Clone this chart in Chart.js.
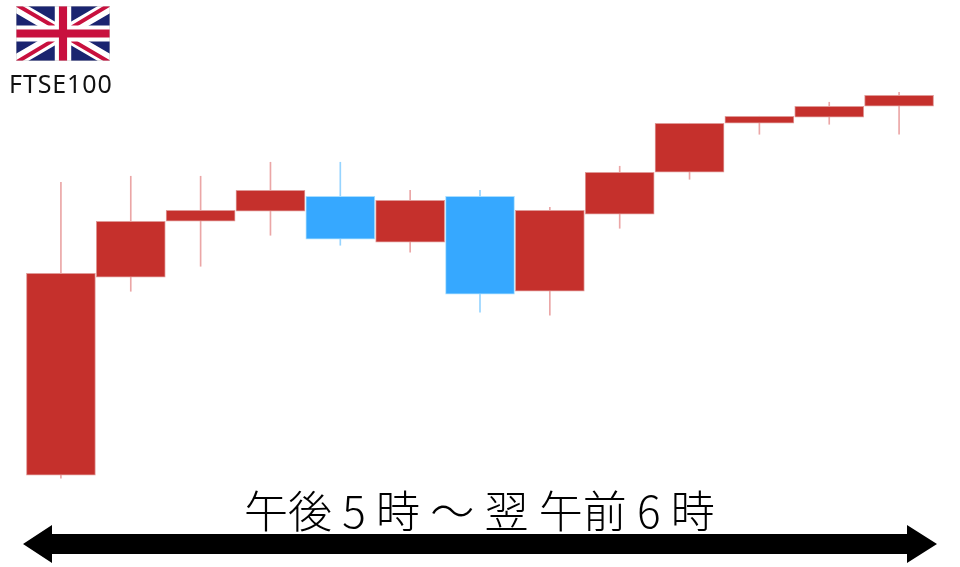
<!DOCTYPE html>
<html>
<head>
  <title>FTSE100</title>
  <meta charset="utf-8">
  <script src="https://cdn.jsdelivr.net/npm/chart.js"></script>
  <style>
    html, body { margin: 0; padding: 0; background: #fff; }
    .wrap { position: relative; width: 960px; height: 567px; overflow: hidden; }
    canvas { position: absolute; left: 0; top: 0; }
    svg { position: absolute; left: 0; top: 0; }
    .name { position: absolute; left: 9px; top: 66px; font: 25px "Noto Sans", sans-serif; letter-spacing: 0.9px; color: #111; white-space: nowrap; }
    .span { position: absolute; left: 244px; top: 479px; font: 300 44px "Noto Sans CJK JP", sans-serif; word-spacing: 0.5px; line-height: 60px; color: #000; white-space: pre; }
  </style>
</head>
<body>
  <div class="wrap">
    <canvas id="candles" width="960" height="567"></canvas>

    <svg width="960" height="567">
      <!-- flag -->
      <svg x="16" y="6" width="94" height="55" viewBox="0 0 60 36" preserveAspectRatio="none">
        <rect width="60" height="36" fill="#1a2470"/>
        <path d="M0 0 L60 36 M60 0 L0 36" stroke="#fff" stroke-width="8"/>
        <path d="M0 -1 L26 14.6 M34 15 L60 -1 M60 37 L34 21.4 M26 21 L0 37" stroke="#c8103e" stroke-width="2.6"/>
        <path d="M30 0 V36 M0 18 H60" stroke="#fff" stroke-width="10.5"/>
        <path d="M30 0 V36 M0 18 H60" stroke="#c8103e" stroke-width="5.2"/>
        <rect width="60" height="36" fill="none" stroke="#ccc" stroke-width="0.6"/>
      </svg>
      <!-- time span arrow -->
      <polygon points="23,544 52,525 52,534 907,534 907,525 937,544 907,563 907,554 52,554 52,563" fill="#000"/>
    </svg>

    <div class="name">FTSE100</div>
    <div class="span">午後 5 時 ～ 翌 午前 6 時</div>
  </div>

  <script>
    // no price axis in the picture, so values are relative to the first open
    const categories = ['1', '2', '3', '4', '5', '6', '7', '8', '9', '10', '11', '12', '13'];
    const opens  = [0, 198, 254, 264, 279, 233, 279, 184, 261, 303, 352, 358, 369];
    const closes = [202, 254, 265, 285, 236, 275, 181, 265, 303, 352, 359, 369, 380];
    const highs  = [293, 299, 299, 313, 313, 285, 285, 268, 309, 352, 359, 373, 383];
    const lows   = [-3, 184, 209, 240, 230, 223, 163, 160, 247, 296, 341, 351, 341];

    const red = '#c5302c';
    const blue = '#36a8ff';
    const redWick = '#eba6a6';
    const blueWick = '#96d4ff';

    const isUp = i => closes[i] >= opens[i];

    new Chart(document.getElementById('candles').getContext('2d'), {
      type: 'bar',
      data: {
        labels: categories,
        datasets: [
          {
            label: 'body',
            data: categories.map((c, i) => [opens[i], closes[i]]),
            backgroundColor: categories.map((c, i) => isUp(i) ? red : blue),
            borderColor: categories.map((c, i) => isUp(i) ? '#e09a98' : '#a8deff'),
            borderWidth: 1,
            borderSkipped: false,
            barThickness: 69,
            order: 1
          },
          {
            label: 'wick',
            data: categories.map((c, i) => [lows[i], highs[i]]),
            backgroundColor: categories.map((c, i) => isUp(i) ? redWick : blueWick),
            borderWidth: 0,
            barThickness: 1,
            order: 2
          }
        ]
      },
      options: {
        responsive: false,
        animation: false,
        layout: { padding: { left: 26, right: 26, top: 0, bottom: 0 } },
        plugins: { legend: { display: false }, tooltip: { enabled: false } },
        scales: {
          x: { display: false, stacked: false, grid: { display: false } },
          y: { display: false, min: -91.75, max: 475.25, grid: { display: false } }
        },
        datasets: { bar: { grouped: false } }
      }
    });
  </script>
</body>
</html>
